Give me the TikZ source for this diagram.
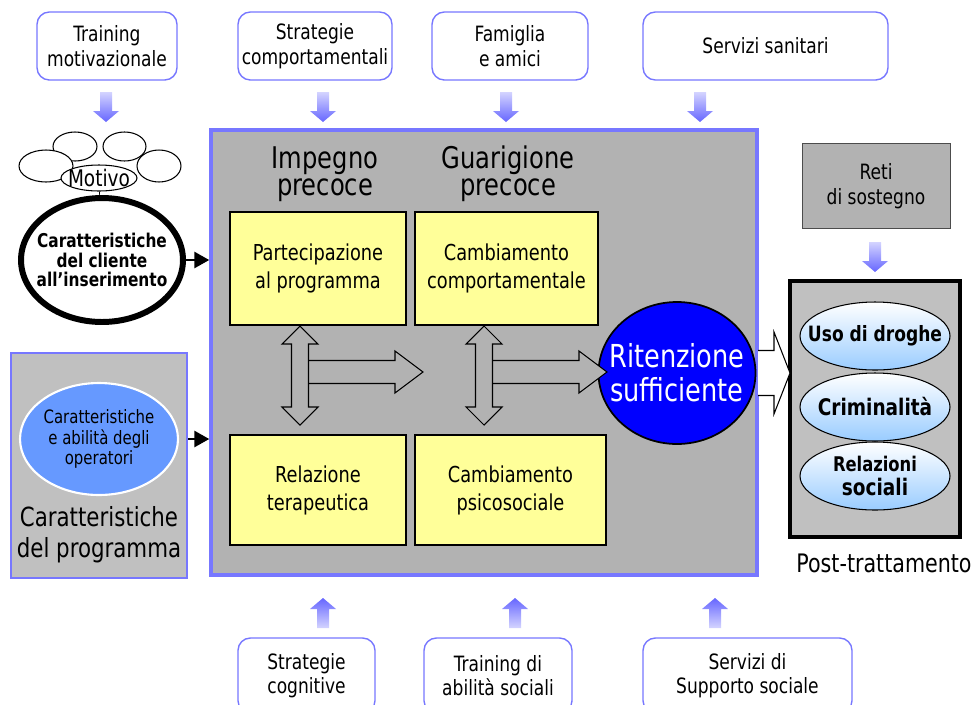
\documentclass[tikz,border=0pt]{standalone}
\usepackage{fontspec}
\setmainfont[FakeStretch=0.9]{DejaVu Sans Condensed}
\usetikzlibrary{arrows.meta,shapes.geometric}

\definecolor{panelgray}{HTML}{B2B2B2}
\definecolor{sidegray}{HTML}{C0C0C0}
\definecolor{frameblue}{HTML}{7777FF}
\definecolor{notepale}{HTML}{FFFF99}
\definecolor{staffblue}{HTML}{6699FF}
\definecolor{outcomeblue}{HTML}{99CCFF}
\definecolor{arrowtop}{HTML}{D4D4FF}
\definecolor{arrowbot}{HTML}{6666FF}

\newcommand{\fs}[2]{\fontsize{#1}{#2}\selectfont}

% shaded block arrows, tip at (#1,#2)
\newcommand{\pushdown}[2]{\path[top color=arrowtop,bottom color=arrowbot] (#1-6,#2-30) -- (#1+6,#2-30) -- (#1+6,#2-11) -- (#1+13,#2-11) -- (#1,#2) -- (#1-13,#2-11) -- (#1-6,#2-11) -- cycle;}
\newcommand{\pushup}[2]{\path[top color=arrowbot,bottom color=arrowtop] (#1-6,#2+30) -- (#1+6,#2+30) -- (#1+6,#2+11) -- (#1+13,#2+11) -- (#1,#2) -- (#1-13,#2+11) -- (#1-6,#2+11) -- cycle;}
% outlined arrows
\newcommand{\openarrow}[7][panelgray]{\draw[fill=#1,line width=0.6pt] (#2,#4-#5) -- (#3-#7,#4-#5) -- (#3-#7,#4-#6) -- (#3,#4) -- (#3-#7,#4+#6) -- (#3-#7,#4+#5) -- (#2,#4+#5);}
\newcommand{\twowayarrow}[3]{\draw[fill=panelgray,line width=0.6pt] (#1,#2) -- (#1+18,#2+18) -- (#1+8.5,#2+18) -- (#1+8.5,#3-18) -- (#1+18,#3-18) -- (#1,#3) -- (#1-18,#3-18) -- (#1-8.5,#3-18) -- (#1-8.5,#2+18) -- (#1-18,#2+18) -- cycle;}

\begin{document}
\begin{tikzpicture}[x=0.02cm, y=-0.02cm, font=\fs{12}{14},
  source/.style={draw=frameblue, line width=0.8pt, fill=white, rounded corners=7pt, align=center, inner sep=0pt},
  stage/.style={draw, line width=1.3pt, fill=notepale, align=center, inner sep=0pt, font=\fs{12.5}{16}},
  outcome/.style={ellipse, draw, line width=0.6pt, top color=white, bottom color=outcomeblue, minimum width=3cm, minimum height=1.36cm, inner sep=0pt},
  inlabel/.style={align=center, inner sep=0pt},
  cloud/.style={ellipse, draw, fill=white, line width=0.6pt, inner sep=0pt},
  feed/.style={-{Triangle[length=3mm,width=3.2mm]}, line width=1.6pt}]
	\useasboundingbox (0,0) rectangle (973,704);

	\node[source, minimum width=2.8cm, minimum height=1.36cm] (trainmot) at (107,46) {Training\\motivazionale};
	\node[source, minimum width=3.08cm, minimum height=1.36cm] (stratcomp) at (315,46) {Strategie\\comportamentali};
	\node[source, minimum width=3.12cm, minimum height=1.36cm] (famiglia) at (510,46) {Famiglia\\e amici};
	\node[source, minimum width=4.9cm, minimum height=1.36cm] (sanitari) at (765.5,46) {Servizi sanitari};
	\pushdown{106}{122} \pushdown{323}{122} \pushdown{506}{122} \pushdown{700}{122}

	\node[source, minimum width=2.74cm, minimum height=1.5cm] (stratcog) at (306.5,675.5) {Strategie\\cognitive};
	\node[source, minimum width=2.96cm, minimum height=1.5cm] (abilsoc) at (498,675.5) {Training di\\abilità sociali};
	\node[source, minimum width=4.18cm, minimum height=1.5cm] (suppsoc) at (747.5,675.5) {Servizi di\\Supporto sociale};
	\pushup{323}{598} \pushup{515}{598} \pushup{715}{598}

	\node[draw=frameblue, line width=2pt, fill=panelgray, minimum width=10.92cm, minimum height=8.9cm, inner sep=0pt] (panel) at (484,352.5) {};
	\node[align=center, font=\fs{17}{15.5}] (impegno) at (325,174) {Impegno\\precoce};
	\node[align=center, font=\fs{17}{15.5}] (guarig) at (508,174) {Guarigione\\precoce};
	\node[stage, minimum width=3.52cm, minimum height=2.26cm] (partec) at (318,268.5) {Partecipazione\\al programma};
	\node[stage, minimum width=3.66cm, minimum height=2.26cm] (cambcomp) at (506.5,268.5) {Cambiamento\\comportamentale};
	\node[stage, minimum width=3.52cm, minimum height=2.2cm] (relter) at (318,490) {Relazione\\terapeutica};
	\node[stage, minimum width=3.82cm, minimum height=2.2cm] (cambpsi) at (510.5,490) {Cambiamento\\psicosociale};
	\node[ellipse, draw, line width=1pt, fill=blue, minimum width=3.14cm, minimum height=2.84cm, inner sep=0pt,
	  label={[inlabel, text=white, font=\fs{18}{19.5}]center:{Ritenzione\\sufficiente}}] (ritenz) at (677,373) {};
	\openarrow{309}{423}{372}{11.5}{21}{28}
	\twowayarrow{300}{326}{425}
	\openarrow{493}{607}{372}{11.5}{21}{28}
	\twowayarrow{484}{326}{425}

	\node[draw, line width=2.4pt, fill=sidegray, minimum width=3.4cm, minimum height=5.12cm, inner sep=0pt] (postbox) at (875,409) {};
	\openarrow[white]{758}{790}{373}{22.5}{41}{16}
	\node[outcome, label={[inlabel, font=\fs{12}{14}\bfseries]center:Uso di droghe}] (droghe) at (875,336) {};
	\node[outcome, label={[inlabel, font=\fs{13}{15}\bfseries]center:Criminalità}] (crimin) at (875,407) {};
	\node[outcome, label={[inlabel, font=\fs{13}{14}\bfseries]center:{{\fs{11.5}{13}Relazioni}\\sociali}}] (relsoc) at (875,476) {};
	\node[font=\fs{14.5}{16}] (posttr) at (884,563) {Post-trattamento};
	\node[draw=black!70, fill=panelgray, minimum width=2.96cm, minimum height=1.7cm, align=center] (reti) at (876,186) {Reti\\di sostegno};
	\pushdown{875}{272}

	\node[cloud, minimum width=0.88cm, minimum height=0.58cm] (cloudtl) at (75,146.5) {};
	\node[cloud, minimum width=0.86cm, minimum height=0.58cm] (cloudtr) at (124.5,146.5) {};
	\node[cloud, minimum width=1.08cm, minimum height=0.64cm] (cloudl) at (46,166) {};
	\node[cloud, minimum width=0.88cm, minimum height=0.64cm] (cloudr) at (159,166) {};
	\node[cloud, minimum width=1.52cm, minimum height=0.52cm, label={[inlabel, font=\fs{13}{14}]center:Motivo}] (motivo) at (99,178) {};
	\node[ellipse, draw, line width=3.4pt, fill=white, minimum width=3.24cm, minimum height=2.48cm, inner sep=0pt,
	  label={[inlabel, font=\fs{10.8}{11}\bfseries]center:{Caratteristiche\\del cliente\\all’inserimento}}] (cliente) at (102,260) {};
	\draw (motivo) -- (cliente);
	\draw[feed] (cliente.east) -- (cliente.east -| panel.west);

	\node[draw=frameblue, line width=1.4pt, fill=sidegray, minimum width=3.52cm, minimum height=4.5cm, inner sep=0pt] (progbox) at (99,465.5) {};
	\node[ellipse, draw=white, line width=1.2pt, fill=staffblue, minimum width=3.16cm, minimum height=2.24cm, inner sep=0pt,
	  label={[inlabel, font=\fs{10.5}{11.5}]center:{Caratteristiche\\e abilità degli\\operatori}}] (operatori) at (99,439) {};
	\node[align=center, font=\fs{15}{17.5}] (progtext) at (99,535) {Caratteristiche\\del programma};
	\draw[feed] (progbox.east |- operatori) -- (panel.west |- operatori);
\end{tikzpicture}
\end{document}
